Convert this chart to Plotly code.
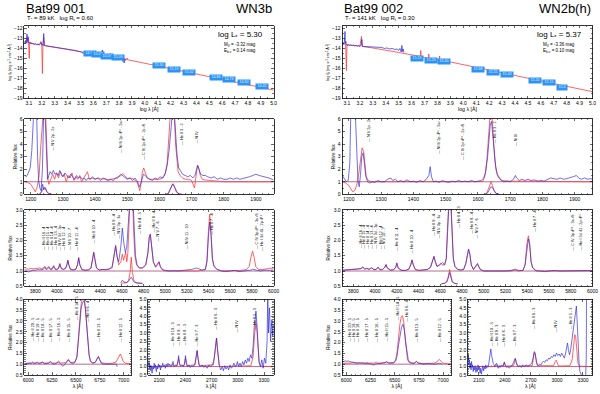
import plotly.graph_objects as go

# ---------------- DATA ----------------
# ---- Bat99 001 ----
S1_SED_OBS = [(3.065,-13.3),(3.07,-13.55),(3.075,-13.2),(3.08,-13.45),(3.085,-12.55),(3.088,-13.3),(3.091,-13.1),(3.094,-12.9),(3.097,-13.4),(3.1,-13.45),(3.105,-13.35),(3.11,-13.5),(3.115,-13.4),(3.12,-13.55),(3.13,-13.5),(3.14,-13.6),(3.15,-13.5),(3.16,-13.62),(3.17,-13.55),(3.18,-13.65),(3.19,-13.55),(3.195,-13.4),(3.2,-13.68),(3.205,-13.6),(3.21,-13.7),(3.215,-12.5),(3.22,-13.7),(3.23,-13.72),(3.25,-13.78),(3.27,-13.82),(3.29,-13.86),(3.31,-13.9),(3.33,-13.95),(3.35,-14.0),(3.37,-13.97),(3.39,-14.05),(3.41,-14.1),(3.43,-14.14),(3.45,-14.2),(3.47,-14.22),(3.49,-14.3),(3.51,-14.35),(3.52,-14.5),(3.53,-14.35),(3.54,-14.6),(3.55,-14.45),(3.56,-14.55),(3.57,-14.42),(3.58,-14.6),(3.59,-14.5),(3.6,-14.62),(3.61,-14.55),(3.62,-14.68),(3.63,-14.58),(3.64,-14.7),(3.65,-14.62),(3.66,-14.72),(3.671,-14.15),(3.68,-14.75),(3.69,-14.7),(3.7,-14.8),(3.71,-14.72),(3.72,-14.85),(3.733,-14.5),(3.74,-14.88),(3.75,-14.82),(3.76,-14.92),(3.77,-14.85),(3.78,-14.98),(3.79,-14.9),(3.8,-15.02),(3.81,-14.95),(3.817,-14.7),(3.823,-15.1),(3.83,-15.3),(3.835,-14.9),(3.84,-15.45),(3.845,-15.0),(3.85,-15.2)]
S1_SED_MOD = [(3.065,-13.35),(3.075,-13.3),(3.085,-13.5),(3.093,-12.8),(3.097,-13.4),(3.103,-15.0),(3.106,-13.45),(3.12,-13.5),(3.14,-13.55),(3.16,-13.6),(3.18,-13.62),(3.193,-13.3),(3.2,-13.66),(3.205,-16.5),(3.209,-13.68),(3.215,-12.9),(3.22,-13.72),(3.3,-13.87),(3.4,-14.1),(3.5,-14.33),(3.6,-14.56),(3.668,-14.72),(3.671,-14.3),(3.675,-14.74),(3.7,-14.78),(3.73,-14.85),(3.733,-14.6),(3.737,-14.86),(3.8,-14.98),(3.814,-15.02),(3.817,-14.75),(3.82,-15.05),(3.86,-15.1),(3.862,-14.95),(3.865,-15.12),(3.9,-15.21),(4.0,-15.47),(4.2,-16.01),(4.4,-16.55),(4.6,-17.09),(4.8,-17.62),(5.0,-18.16)]
S1_PHOT_LOGWL = [3.575, 3.635, 3.709, 3.788, 4.108, 4.224, 4.345, 4.549, 4.656, 4.77, 4.912]
S1_PHOT_LOGF = [-14.48, -14.6, -14.77, -14.91, -15.69, -16.08, -16.37, -16.88, -17.1, -17.42, -17.75]
S1_PHOT_MAG = ["14.91", "15.02", "15.07", "15.09", "15.30", "15.19", "15.02", "14.86", "14.73", "14.60", "14.45"]

S1_UV_OBS = [(1180,1.55),(1186,1.4),(1192,1.7),(1198,2.1),(1203,3.5),(1207,6.5),(1210,7),(1214,7),(1218,6.5),(1221,3.0),(1224,1.2),(1228,0.5),(1232,0.3),(1236,2.0),(1240,6.5),(1244,6.5),(1248,3.0),(1252,1.2),(1256,1.5),(1260,1.8),(1265,1.6),(1270,1.9),(1275,1.6),(1280,1.7),(1285,1.5),(1290,1.9),(1295,1.6),(1300,1.4),(1306,1.7),(1312,1.5),(1318,1.3),(1324,1.6),(1330,1.4),(1336,1.2),(1342,1.5),(1348,1.3),(1354,1.4),(1360,1.2),(1366,1.3),(1372,1.1),(1378,1.3),(1385,1.2),(1392,1.4),(1400,1.2),(1408,1.3),(1416,1.1),(1424,1.3),(1432,1.2),(1440,1.1),(1448,1.2),(1456,1.1),(1464,1.3),(1472,1.4),(1480,1.6),(1486,1.5),(1492,1.4),(1500,1.2),(1508,1.3),(1516,1.1),(1524,1.3),(1532,1.0),(1538,0.6),(1544,1.0),(1550,1.6),(1556,1.5),(1562,1.3),(1570,1.2),(1578,1.1),(1586,1.3),(1594,1.2),(1602,1.4),(1610,1.3),(1618,1.7),(1624,2.3),(1630,3.5),(1634,5.5),(1638,7),(1642,7),(1646,6.5),(1650,4.5),(1655,3.0),(1660,2.1),(1666,1.8),(1672,1.6),(1680,1.5),(1688,1.4),(1696,1.5),(1704,1.3),(1710,1.5),(1715,2.0),(1719,2.3),(1723,2.0),(1728,1.6),(1735,1.5),(1742,1.5),(1750,1.4),(1760,1.3),(1770,1.4),(1780,1.2),(1790,1.3),(1800,1.2),(1810,1.2),(1820,1.3),(1830,1.2),(1840,1.3),(1850,1.2),(1860,1.25),(1870,1.3),(1880,1.4),(1890,1.5),(1900,1.6),(1910,1.5),(1920,1.45),(1930,1.35),(1940,1.3),(1950,1.2),(1955,1.15)]
S1_UV_MOD = [(1180,1.0),(1190,0.95),(1200,0.8),(1208,0.5),(1214,0.2),(1220,0.6),(1226,1.5),(1230,3.5),(1234,6.5),(1240,7.0),(1246,6.5),(1250,3.0),(1253,1.2),(1256,0.8),(1262,1.2),(1268,1.6),(1274,1.2),(1280,1.7),(1286,1.3),(1292,1.8),(1298,1.4),(1304,1.6),(1310,1.0),(1316,1.5),(1322,1.3),(1328,1.7),(1334,1.1),(1340,1.4),(1346,1.2),(1352,1.5),(1358,1.0),(1364,1.3),(1370,1.6),(1376,1.8),(1382,1.2),(1390,1.3),(1400,1.2),(1410,1.3),(1420,1.2),(1430,1.25),(1440,1.15),(1450,1.2),(1460,1.2),(1470,1.3),(1480,1.5),(1486,1.65),(1492,1.5),(1500,1.25),(1510,1.3),(1520,1.2),(1530,1.0),(1535,0.5),(1539,0.3),(1543,0.9),(1547,1.8),(1551,2.1),(1556,1.7),(1562,1.3),(1570,1.2),(1580,1.2),(1590,1.15),(1600,1.2),(1610,1.3),(1618,1.6),(1624,2.5),(1630,4.5),(1634,6.5),(1640,7.5),(1646,6.5),(1650,4.0),(1654,2.5),(1658,1.8),(1664,1.5),(1672,1.3),(1680,1.2),(1690,1.2),(1700,1.1),(1705,0.7),(1709,0.5),(1713,1.3),(1718,2.3),(1722,2.1),(1727,1.5),(1733,1.2),(1740,1.15),(1760,1.1),(1780,1.05),(1800,1.0),(1955,1.0)]
S1_UV_INSET_MOD = [(1224,0.0),(1230,0.05),(1236,0.3),(1241,0.55),(1246,0.45),(1251,0.15),(1258,0.03),(1266,0.0),(None,None),(1618,0.0),(1626,0.05),(1632,0.35),(1638,0.75),(1642,0.85),(1647,0.55),(1652,0.2),(1660,0.04),(1670,0.0)]
S1_UV_INSET_OBS = [(1226,0.0),(1232,0.15),(1237,0.8),(1240,0.35),(1244,0.55),(1249,0.25),(1256,0.05),(1264,0.0),(None,None),(1620,0.0),(1628,0.06),(1634,0.4),(1640,0.8),(1644,0.75),(1649,0.4),(1655,0.15),(1662,0.03),(1670,0.0)]

S1_OPT_OBS = [(3700,0.98),(3720,1.0),(3740,0.97),(3760,1.0),(3780,1.03),(3800,1.02),(3820,1.05),(3840,1.04),(3860,1.06),(3875,1.05),(3888,1.12),(3900,1.05),(3912,1.06),(3925,1.12),(3940,1.04),(3955,1.05),(3970,1.15),(3985,1.05),(4000,1.04),(4015,1.08),(4027,1.22),(4040,1.08),(4060,1.05),(4080,1.08),(4092,1.2),(4101,1.35),(4110,1.2),(4125,1.05),(4150,1.03),(4175,1.06),(4190,1.2),(4201,1.42),(4212,1.2),(4230,1.05),(4260,1.02),(4290,1.03),(4315,1.1),(4330,1.4),(4340,1.6),(4350,1.4),(4365,1.1),(4390,1.03),(4420,1.05),(4450,1.04),(4480,1.06),(4510,1.15),(4530,1.5),(4542,1.8),(4555,1.45),(4570,1.3),(4590,1.8),(4604,2.4),(4618,1.9),(4632,1.6),(4645,1.8),(4660,2.6),(4672,3.5),(4686,4.0),(4700,3.5),(4712,2.2),(4725,1.5),(4740,1.2),(4760,1.1),(4790,1.1),(4820,1.2),(4840,1.6),(4852,2.1),(4862,2.2),(4875,1.8),(4890,1.3),(4910,1.15),(4930,1.25),(4942,1.3),(4955,1.15),(4975,1.05),(5000,1.02),(5040,1.0),(5080,1.01),(5120,1.0),(5160,1.02),(5200,1.03),(5240,1.05),(5270,1.08),(5290,1.1),(5310,1.07),(5340,1.03),(5370,1.05),(5385,1.3),(5398,2.1),(5410,2.6),(5422,2.2),(5435,1.4),(5450,1.15),(5480,1.05),(5520,1.0),(5560,0.98),(5600,1.0),(5640,1.02),(5680,0.98),(5720,1.0),(5760,1.01),(5790,1.03),(5806,1.06),(5820,1.04),(5850,1.02),(5880,1.0),(5920,1.03),(5960,1.02),(6000,1.04)]
S1_OPT_MOD = [(3700,1.05),(3720,1.07),(3740,1.06),(3760,1.08),(3780,1.07),(3800,1.08),(3820,1.07),(3840,1.1),(3860,1.08),(3875,1.1),(3888,1.15),(3900,1.08),(3912,1.1),(3925,1.15),(3940,1.07),(3955,1.08),(3970,1.18),(3985,1.07),(4000,1.06),(4015,1.1),(4027,1.25),(4040,1.08),(4060,1.06),(4080,1.1),(4092,1.2),(4101,1.35),(4110,1.2),(4125,1.06),(4150,1.04),(4175,1.06),(4190,1.2),(4201,1.45),(4212,1.2),(4230,1.05),(4260,1.03),(4290,1.04),(4315,1.1),(4330,1.4),(4340,1.62),(4350,1.4),(4365,1.1),(4390,1.04),(4420,1.04),(4450,1.05),(4480,1.06),(4510,1.1),(4530,1.5),(4542,1.85),(4555,1.5),(4570,1.2),(4590,1.3),(4604,1.55),(4615,1.35),(4625,1.5),(4635,1.6),(4645,1.3),(4655,1.6),(4665,2.5),(4675,3.6),(4686,4.2),(4697,3.6),(4708,2.3),(4720,1.5),(4735,1.2),(4760,1.1),(4790,1.1),(4820,1.2),(4840,1.6),(4852,2.1),(4862,2.2),(4875,1.8),(4890,1.3),(4910,1.12),(4930,1.2),(4942,1.3),(4955,1.12),(4975,1.03),(5000,1.0),(5100,1.0),(5200,1.0),(5300,1.0),(5370,1.05),(5385,1.35),(5398,2.3),(5410,2.85),(5422,2.3),(5435,1.4),(5450,1.15),(5480,1.05),(5520,1.0),(5600,1.0),(5700,1.02),(5750,1.05),(5775,1.15),(5790,1.45),(5806,1.65),(5820,1.45),(5835,1.15),(5860,1.05),(5900,1.05),(5950,1.08),(6000,1.1)]
S1_OPT_INSET_MOD = [(4590,0.6),(4620,0.6),(4645,0.62),(4662,0.7),(4675,0.95),(4686,1.45),(4697,0.95),(4710,0.7),(4730,0.62),(4760,0.6),(4790,0.59)]
S1_OPT_INSET_OBS = [(4590,0.62),(4605,0.7),(4620,0.64),(4640,0.62),(4660,0.66),(4675,0.75),(4686,0.8),(4698,0.72),(4712,0.64),(4735,0.61),(4760,0.6),(4790,0.6)]

S1_HA_OBS = [(5960,1.02),(5980,1.04),(6000,1.03),(6020,1.05),(6035,1.03),(6046,1.07),(6060,1.03),(6080,1.04),(6094,1.07),(6110,1.03),(6130,1.04),(6149,1.08),(6170,1.02),(6195,1.03),(6215,1.05),(6232,1.1),(6250,1.03),(6275,1.0),(6300,1.05),(6318,1.1),(6340,1.0),(6365,0.9),(6385,1.0),(6405,1.1),(6421,1.2),(6440,1.08),(6465,1.03),(6490,1.08),(6510,1.3),(6525,2.0),(6540,3.0),(6555,3.6),(6570,3.85),(6585,3.95),(6598,3.6),(6612,2.8),(6625,2.0),(6638,1.45),(6652,1.15),(6670,1.05),(6690,1.05),(6710,1.12),(6725,1.28),(6736,1.35),(6748,1.22),(6765,1.05),(6790,1.0),(6820,1.0),(6850,1.02),(6880,1.0),(6905,1.02),(6925,1.0),(6932,0.88)]
S1_HA_MOD = [(5960,1.03),(6000,1.04),(6030,1.05),(6046,1.1),(6060,1.05),(6080,1.05),(6094,1.1),(6110,1.05),(6135,1.05),(6149,1.11),(6165,1.05),(6210,1.05),(6232,1.13),(6255,1.05),(6295,1.05),(6318,1.14),(6340,1.05),(6395,1.07),(6421,1.22),(6445,1.07),(6490,1.1),(6510,1.35),(6525,2.1),(6540,3.1),(6555,3.8),(6570,4.1),(6585,4.15),(6598,3.7),(6612,2.8),(6625,1.95),(6638,1.4),(6652,1.15),(6670,1.07),(6700,1.08),(6720,1.25),(6736,1.35),(6750,1.2),(6770,1.06),(6820,1.03),(6880,1.04),(6920,1.1),(6940,1.25),(6955,1.42),(6965,1.47),(6978,1.35),(6995,1.12),(7020,1.04),(7080,1.02)]

S1_IR_OBS = [(1975,1.0),(1982,1.35),(1988,0.9),(1995,1.1),(2003,0.75),(2010,1.05),(2018,0.6),(2026,1.0),(2034,0.85),(2042,1.2),(2050,0.9),(2058,1.1),(2066,0.7),(2074,1.0),(2082,0.85),(2090,1.15),(2098,0.95),(2106,1.1),(2114,0.8),(2122,1.05),(2130,0.95),(2140,1.2),(2150,1.0),(2160,1.1),(2170,0.9),(2180,1.15),(2190,1.0),(2200,1.2),(2210,1.05),(2220,1.15),(2232,1.0),(2245,1.1),(2258,1.3),(2270,1.0),(2285,1.1),(2300,1.05),(2315,1.3),(2322,1.65),(2330,1.2),(2345,1.05),(2360,1.1),(2375,1.0),(2390,1.2),(2401,1.65),(2410,1.2),(2425,1.0),(2440,1.1),(2455,0.95),(2470,1.05),(2490,1.0),(2510,1.2),(2525,1.7),(2534,1.95),(2543,1.5),(2555,1.1),(2570,1.0),(2590,1.1),(2610,0.95),(2630,1.05),(2650,0.9),(2670,1.1),(2690,1.0),(2710,1.1),(2730,1.5),(2745,2.4),(2755,2.7),(2765,2.1),(2778,1.3),(2790,1.0),(2805,0.8),(2820,1.0),(2835,0.75),(2850,1.05),(2865,0.85),(2880,1.0),(2895,0.8),(2910,1.1),(2925,0.9),(2940,1.0),(2955,1.2),(2970,1.0),(2985,1.1),(2995,1.3),(3010,1.0),(3025,1.2),(3040,1.0),(3055,1.3),(3070,1.1),(3085,1.4),(3100,1.2),(3115,1.5),(3130,1.3),(3145,1.7),(3160,1.5),(3175,2.2),(3188,3.4),(3198,4.0),(3208,4.3),(3218,3.5),(3230,2.2),(3245,1.2),(3260,1.0),(3275,1.4),(3290,0.9),(3305,1.5),(3320,1.2),(3335,2.5),(3343,5.5),(3350,3.0),(3362,4.5),(3375,2.5),(3390,3.8),(3400,2.8),(3410,3.5)]
S1_IR_MOD = [(1975,1.0),(2200,1.0),(2240,1.02),(2252,1.15),(2264,1.02),(2305,1.05),(2322,1.5),(2338,1.05),(2385,1.05),(2401,1.5),(2417,1.05),(2510,1.1),(2524,1.6),(2534,1.95),(2545,1.5),(2560,1.05),(2720,1.1),(2735,1.8),(2748,2.6),(2758,2.7),(2770,1.9),(2785,1.1),(2800,1.0),(2975,1.02),(2993,1.12),(3010,1.02),(3150,1.05),(3175,1.6),(3192,2.9),(3205,3.6),(3215,3.5),(3228,2.4),(3242,1.3),(3260,1.02),(3410,1.0)]

# ---- Bat99 002 ----
S2_SED_OBS = [(3.065,-13.5),(3.07,-13.4),(3.075,-13.6),(3.08,-13.45),(3.085,-12.3),(3.088,-13.5),(3.092,-13.3),(3.096,-13.65),(3.1,-13.6),(3.105,-13.7),(3.11,-13.62),(3.12,-13.7),(3.13,-13.65),(3.14,-13.72),(3.15,-13.66),(3.16,-13.75),(3.17,-13.68),(3.18,-13.75),(3.19,-13.7),(3.2,-13.78),(3.21,-13.7),(3.215,-13.1),(3.22,-13.78),(3.23,-13.8),(3.25,-13.82),(3.27,-13.85),(3.29,-13.83),(3.31,-13.9),(3.33,-13.86),(3.35,-13.95),(3.37,-13.9),(3.39,-14.0),(3.41,-13.95),(3.43,-14.05),(3.45,-14.0),(3.47,-14.1),(3.49,-14.05),(3.5,-14.2),(3.51,-14.0),(3.52,-14.35),(3.525,-13.7),(3.53,-14.3),(3.535,-14.05),(3.54,-14.4)]
S2_SED_MOD = [(3.065,-13.45),(3.08,-13.55),(3.09,-13.6),(3.096,-16.2),(3.1,-13.62),(3.15,-13.7),(3.2,-13.78),(3.213,-12.8),(3.218,-13.8),(3.3,-13.95),(3.4,-14.15),(3.5,-14.4),(3.6,-14.63),(3.668,-14.8),(3.671,-14.2),(3.675,-14.82),(3.7,-14.9),(3.731,-14.98),(3.733,-14.55),(3.736,-15.0),(3.8,-15.1),(3.815,-15.15),(3.817,-14.75),(3.82,-15.17),(3.9,-15.35),(4.0,-15.6),(4.2,-16.15),(4.4,-16.7),(4.6,-17.25),(4.8,-17.78),(5.0,-18.32)]
S2_PHOT_LOGWL = [3.645, 3.749, 3.849, 4.112, 4.23, 4.342, 4.554, 4.661, 4.764]
S2_PHOT_LOGF = [-15.0, -15.16, -15.33, -16.08, -16.43, -16.65, -17.2, -17.42, -17.85]
S2_PHOT_MAG = ["15.19", "15.23", "15.40", "15.68", "15.55", "15.43", "15.20", "15.15", "15.0"]

S2_UV_OBS = [(1180,1.5),(1186,1.2),(1192,1.0),(1198,1.1),(1203,2.5),(1206,6.5),(1210,7),(1216,7),(1220,6.5),(1224,3.0),(1228,1.2),(1232,0.6),(1236,1.5),(1240,3.0),(1244,3.3),(1248,2.5),(1252,1.5),(1258,1.0),(1265,0.9),(1272,1.0),(1280,0.95),(1290,1.1),(1300,1.0),(1310,1.0),(1320,1.2),(1330,1.3),(1336,1.1),(1344,1.2),(1352,1.0),(1360,1.1),(1370,1.0),(1380,1.15),(1390,1.0),(1400,1.05),(1410,0.95),(1420,1.1),(1430,1.0),(1440,1.2),(1448,1.5),(1452,2.2),(1456,1.4),(1462,1.0),(1470,1.05),(1480,0.95),(1490,1.1),(1500,1.0),(1510,0.95),(1520,1.05),(1530,1.0),(1540,1.1),(1550,1.0),(1560,1.05),(1570,1.0),(1580,1.1),(1590,1.0),(1600,1.05),(1610,1.1),(1618,1.3),(1624,1.8),(1630,3.0),(1634,4.5),(1638,5.5),(1642,5.8),(1646,4.8),(1650,3.4),(1655,2.2),(1660,1.6),(1666,1.3),(1672,1.1),(1680,1.0),(1690,1.05),(1700,1.0),(1710,1.2),(1716,1.5),(1720,1.3),(1728,1.1),(1736,1.2),(1745,1.1),(1755,1.2),(1765,1.1),(1775,1.15),(1785,1.05),(1795,1.1),(1805,1.05),(1815,1.2),(1825,1.3),(1835,1.25),(1845,1.2),(1855,1.3),(1865,1.2),(1875,1.25),(1885,1.3),(1895,1.4),(1905,1.5),(1912,1.3),(1920,1.2),(1930,1.3),(1940,1.2),(1950,1.25),(1955,1.2)]
S2_UV_MOD = [(1180,1.0),(1190,0.9),(1200,0.7),(1206,0.4),(1212,0.2),(1218,0.3),(1224,0.7),(1230,1.5),(1236,2.8),(1241,3.7),(1246,3.4),(1250,2.2),(1254,1.4),(1260,1.1),(1270,1.0),(1615,1.02),(1622,1.5),(1628,2.8),(1633,5.0),(1638,6.5),(1643,6.5),(1648,4.5),(1652,2.8),(1657,1.8),(1662,1.4),(1668,1.2),(1676,1.1),(1690,1.05),(1720,1.05),(1760,1.0),(1955,1.0)]
S2_UV_INSET_MOD = [(1618,0.0),(1626,0.05),(1632,0.4),(1638,0.9),(1641,1.0),(1645,0.7),(1650,0.3),(1656,0.08),(1664,0.0)]
S2_UV_INSET_OBS = [(1620,0.0),(1628,0.05),(1634,0.3),(1640,0.6),(1644,0.55),(1649,0.3),(1655,0.1),(1662,0.02),(1668,0.0)]

S2_OPT_OBS = [(3700,1.02),(3750,1.03),(3800,1.05),(3840,1.06),(3870,1.08),(3888,1.12),(3905,1.06),(3925,1.08),(3945,1.05),(3970,1.1),(3990,1.04),(4010,1.05),(4027,1.12),(4045,1.04),(4070,1.05),(4090,1.12),(4101,1.2),(4112,1.1),(4140,1.03),(4170,1.04),(4190,1.12),(4201,1.25),(4212,1.1),(4240,1.02),(4280,1.02),(4310,1.06),(4328,1.2),(4340,1.35),(4352,1.2),(4370,1.05),(4400,1.02),(4440,1.03),(4480,1.05),(4510,1.12),(4528,1.35),(4542,1.48),(4555,1.3),(4570,1.15),(4590,1.2),(4605,1.25),(4620,1.2),(4640,1.2),(4655,1.4),(4665,2.2),(4675,3.2),(4686,3.6),(4697,3.2),(4708,2.0),(4720,1.4),(4735,1.15),(4760,1.05),(4790,1.03),(4815,1.05),(4835,1.25),(4850,1.6),(4860,1.72),(4872,1.55),(4885,1.2),(4905,1.05),(4925,1.15),(4942,1.25),(4955,1.15),(4970,1.05),(5000,1.0),(5050,1.0),(5100,1.0),(5150,0.98),(5200,1.0),(5250,1.02),(5290,1.06),(5320,1.02),(5360,1.02),(5380,1.2),(5395,1.75),(5410,2.05),(5422,1.85),(5435,1.3),(5450,1.1),(5480,1.0),(5520,1.0),(5560,0.98),(5600,1.0),(5650,1.02),(5700,1.0),(5750,1.0),(5800,1.02),(5850,1.0),(5900,1.01),(5950,1.02),(6000,1.02)]
S2_OPT_MOD = [(3700,1.03),(3750,1.04),(3800,1.05),(3840,1.06),(3870,1.08),(3888,1.13),(3905,1.07),(3925,1.09),(3945,1.06),(3970,1.11),(3990,1.05),(4010,1.05),(4027,1.13),(4045,1.05),(4070,1.05),(4090,1.12),(4101,1.22),(4112,1.1),(4140,1.03),(4170,1.04),(4190,1.12),(4201,1.27),(4212,1.1),(4240,1.03),(4280,1.02),(4310,1.06),(4328,1.2),(4340,1.37),(4352,1.2),(4370,1.05),(4400,1.02),(4440,1.03),(4480,1.05),(4510,1.12),(4528,1.35),(4542,1.47),(4555,1.3),(4570,1.15),(4590,1.18),(4605,1.22),(4622,1.28),(4640,1.2),(4655,1.4),(4665,2.3),(4675,3.3),(4686,3.8),(4697,3.3),(4708,2.1),(4720,1.4),(4735,1.15),(4760,1.05),(4790,1.03),(4815,1.05),(4835,1.25),(4850,1.6),(4860,1.7),(4872,1.55),(4885,1.2),(4905,1.05),(4925,1.15),(4942,1.22),(4955,1.12),(4970,1.04),(5000,1.0),(5250,1.0),(5290,1.03),(5320,1.0),(5360,1.02),(5380,1.2),(5395,1.85),(5410,2.15),(5422,1.9),(5435,1.3),(5450,1.1),(5480,1.02),(5520,1.0),(6000,1.0)]
S2_OPT_INSET_MOD = [(4610,0.58),(4640,0.6),(4660,0.66),(4672,0.8),(4686,1.05),(4698,0.82),(4710,0.66),(4730,0.6),(4760,0.58)]
S2_OPT_INSET_OBS = [(4610,0.58),(4640,0.6),(4660,0.64),(4672,0.75),(4686,0.95),(4698,0.78),(4710,0.64),(4730,0.6),(4760,0.58)]

S2_HA_OBS = [(5960,1.1),(5975,1.12),(5990,1.15),(6005,1.13),(6020,1.15),(6035,1.12),(6050,1.1),(6070,1.08),(6090,1.07),(6110,1.05),(6130,1.06),(6150,1.04),(6175,1.05),(6200,1.03),(6220,1.04),(6240,1.02),(6260,1.0),(6280,0.96),(6300,1.0),(6320,1.03),(6345,1.02),(6370,1.04),(6395,1.06),(6418,1.1),(6440,1.04),(6465,1.03),(6490,1.05),(6510,1.15),(6525,1.4),(6540,1.9),(6555,2.4),(6570,2.7),(6585,2.85),(6598,2.6),(6612,2.0),(6625,1.5),(6640,1.2),(6660,1.06),(6690,1.03),(6710,1.06),(6724,1.12),(6740,1.05),(6770,1.02),(6800,1.0),(6830,1.02),(6860,1.0),(6890,1.01),(6920,1.0),(6945,1.02),(6960,1.04),(6990,1.0)]
S2_HA_MOD = [(5960,1.04),(6000,1.05),(6025,1.05),(6038,1.08),(6050,1.05),(6060,1.05),(6072,1.08),(6085,1.05),(6100,1.05),(6113,1.08),(6128,1.05),(6200,1.05),(6215,1.09),(6230,1.05),(6290,1.05),(6309,1.1),(6325,1.05),(6400,1.06),(6418,1.12),(6435,1.06),(6490,1.08),(6510,1.2),(6525,1.6),(6540,2.3),(6555,2.9),(6568,3.2),(6580,3.25),(6592,3.0),(6605,2.3),(6618,1.6),(6632,1.2),(6650,1.07),(6700,1.05),(6712,1.1),(6724,1.14),(6738,1.06),(6780,1.03),(6900,1.04),(6935,1.1),(6950,1.18),(6961,1.22),(6975,1.15),(6995,1.05),(7030,1.02),(7080,1.02)]

S2_IR_OBS = [(1975,1.3),(1980,1.7),(1986,1.1),(1992,1.4),(1998,0.9),(2004,1.2),(2010,0.8),(2016,1.3),(2022,0.95),(2028,1.1),(2035,0.7),(2042,1.0),(2050,0.8),(2058,1.05),(2066,0.65),(2074,0.95),(2082,0.7),(2090,1.1),(2098,0.8),(2106,1.0),(2114,0.6),(2122,0.9),(2130,0.55),(2138,0.85),(2146,1.05),(2155,0.75),(2164,1.0),(2172,0.85),(2180,1.1),(2190,0.9),(2200,1.05),(2210,1.0),(2220,1.3),(2230,1.8),(2238,2.05),(2246,1.7),(2255,1.4),(2265,1.2),(2275,1.1),(2285,1.0),(2295,1.15),(2305,1.2),(2315,1.0),(2325,0.9),(2335,1.05),(2345,0.95),(2360,1.1),(2375,1.0),(2388,1.15),(2395,1.25),(2405,1.05),(2420,0.95),(2435,1.0),(2450,0.9),(2465,1.0),(2480,1.05),(2495,1.2),(2510,1.45),(2520,1.5),(2530,1.25),(2545,1.05),(2560,1.0),(2575,1.05),(2590,0.95),(2605,1.1),(2620,1.0),(2635,1.05),(2650,1.1),(2665,1.0),(2680,1.05),(2695,1.1),(2710,1.2),(2725,1.5),(2738,1.85),(2748,1.75),(2760,1.3),(2772,1.1),(2785,1.05),(2800,1.15),(2815,1.1),(2830,1.25),(2845,1.3),(2860,1.25),(2875,1.4),(2890,1.35),(2905,1.5),(2920,1.45),(2935,1.6),(2950,1.55),(2965,1.7),(2980,1.6),(2995,1.8),(3010,1.65),(3025,1.75),(3040,1.6),(3055,1.8),(3070,1.6),(3085,1.5),(3100,1.8),(3112,2.2),(3122,2.4),(3132,2.0),(3145,1.7),(3158,2.0),(3170,2.5),(3185,3.2),(3200,3.8),(3212,4.4),(3224,4.6),(3234,3.6),(3244,2.2),(3255,1.2),(3265,0.7),(3275,0.5),(3290,0.4),(3310,0.3),(3330,0.3),(3338,1.5),(3341,5.5)]
S2_IR_MOD = [(1975,1.0),(2230,1.0),(2244,1.06),(2256,1.0),(2295,1.02),(2308,1.12),(2322,1.02),(2380,1.03),(2393,1.28),(2406,1.03),(2500,1.05),(2512,1.35),(2520,1.45),(2530,1.3),(2545,1.03),(2715,1.05),(2730,1.5),(2740,1.9),(2750,1.8),(2762,1.3),(2778,1.05),(2960,1.05),(2980,1.3),(2992,1.38),(3005,1.2),(3020,1.03),(3150,1.05),(3175,1.4),(3192,2.2),(3205,2.9),(3215,2.85),(3228,1.9),(3242,1.2),(3260,1.02),(3410,1.0)]

# ---- line identifications ----
UV_ID_TEXT = ["N V 2p - 2s", "N IV 2p ³P° - 2s²", "C IV 2p ²P° - 2s ²S", "He II 3 - 2", "N IV"]
S1_UV_ID_WL = [1268, 1481, 1551, 1668, 1716]
S1_UV_ID_Y = [3.3, 3.1, 2.6, 3.8, 3.9]
S2_UV_ID_WL = [1262, 1481, 1553, 1655, 1720]
S2_UV_ID_Y = [4.0, 3.05, 2.6, 3.9, 3.7]

S1_OPT_ID_TEXT = ["He II 16 - 4", "He II 15 - 4", "He II 14 - 4", "He II 13 - 4", "N IV 3d - 3p", "He II 12 - 4", "N V 10 - 7", "He II 11 - 4", "He II 10 - 4", "He II 9 - 4", "N V 3p - 3s", "He II 4 - 3", "He II 8 - 4", "N V 7 - 6", "N IV 11 - 10", "He II 7 - 4", "C IV 3p ²P° - 3s ²S", "He I 3d ³D - 2p ³P°"]
S1_OPT_ID_WL = [3882, 3919, 3955, 3988, 4028, 4070, 4120, 4190, 4338, 4530, 4575, 4768, 4896, 4940, 5208, 5436, 5846, 5891]
S1_OPT_ID_Y = [1.62, 1.62, 1.62, 1.62, 1.62, 1.62, 1.62, 1.6, 1.82, 2.1, 2.0, 2.15, 2.2, 1.9, 1.66, 2.1, 1.66, 1.6]
S2_OPT_ID_TEXT = ["He II 16 - 4", "He II 15 - 4", "He II 14 - 4", "He II 13 - 4", "N IV 3d - 3p", "He II 12 - 4", "N V 10 - 7", "He II 11 - 4", "He II 10 - 4", "He II 9 - 4", "N V 3p - 3s", "He II 4 - 3", "He II 8 - 4", "N V 7 - 6", "He II 7 - 4", "C IV 3p ²P° - 3s ²S", "He I 3d ³D - 2p ³P°"]
S2_OPT_ID_WL = [3867, 3898, 3934, 3973, 4012, 4049, 4085, 4201, 4338, 4545, 4590, 4777, 4884, 4945, 5476, 5825, 5895]
S2_OPT_ID_Y = [1.66, 1.66, 1.66, 1.66, 1.66, 1.66, 1.66, 1.6, 1.5, 2.1, 2.0, 2.33, 2.16, 2.0, 2.2, 1.6, 1.6]

HA_ID_TEXT = ["He II 20 - 5", "He II 19 - 5", "He II 18 - 5", "He II 17 - 5", "He II 16 - 5", "He II 15 - 5", "He II 14 - 5", "He II 6 - 4", "He II 13 - 5", "He II 12 - 5"]
S1_HA_ID_WL = [6046, 6094, 6149, 6232, 6318, 6421, 6511, 6628, 6742, 6973]
S2_HA_ID_WL = [6038, 6072, 6113, 6215, 6309, 6418, 6537, 6632, 6724, 6961]
HA_ID_Y = [1.95, 1.95, 1.95, 1.95, 1.95, 1.95, 2.95, 2.85, 1.95, 1.95]

IR_ID_TEXT = ["He II 10 - 3", "He II 9 - 3", "He II 8 - 3", "He II 7 - 3", "He II 6 - 3", "N IV", "He II 5 - 3"]
S1_IR_ID_WL = [2258, 2322, 2401, 2534, 2755, 2993, 3201]
S2_IR_ID_WL = [2252, 2309, 2395, 2517, 2744, 2991, 3161]
IR_ID_Y = [2.1, 2.1, 2.1, 2.1, 3.1, 2.9, 3.1]

# ---- header texts ----
STAR_NAMES = ["Bat99 001", "Bat99 002"]
SPTYPES = ["WN3b", "WN2b(h)"]
TSTAR = ["89", "141"]
LOGRT = ["0.60", "0.30"]
LOGL = ["5.30", "5.37"]
MV = ["-3.32", "-3.36"]
EBV = ["0.14", "0.10"]

# ---------------- STYLE / LAYOUT ----------------
FONT = "Liberation Sans, Arial, Helvetica, sans-serif"
BLUE = "#2b2bdc"
RED = "#ff3d3d"
CONT = "#a3466e"
PHOT = "#2a93f5"
NB = "\u00a0"

W, H = 600, 394
COLS = [dict(x0=22.7, x1=275.3, xa1=131.0, xb0=148.3),
        dict(x0=345.0, x1=598.5, xa1=455.0, xb0=472.3)]
ROWS = dict(sed=(23.3, 97.0), uv=(117.7, 194.3), opt=(210.0, 287.7), bot=(301.0, 377.7))


def xd(a, b):
    return [a / W, b / W]


def yd(top, bot):
    return [1 - bot / H, 1 - top / H]


def axkey(kind, i):
    return kind + "axis" + ("" if i == 1 else str(i))


def ref(kind, i):
    return kind + ("" if i == 1 else str(i))


fig = go.Figure()
layout = dict(width=W, height=H, margin=dict(l=0, r=0, t=0, b=0),
              paper_bgcolor="white", plot_bgcolor="white", showlegend=False,
              font=dict(family=FONT, size=5, color="black"))
annotations = []
shapes = []


def base_axis():
    return dict(showline=True, linecolor="black", linewidth=0.8, mirror="allticks",
                ticks="inside", ticklen=2.5, tickwidth=0.6, tickcolor="black",
                showgrid=False, zeroline=False,
                tickfont=dict(size=5, family=FONT, color="black"))


def add_panel(i, xdom, ydom, xr, yr, xt0, xdt, xmin, yt0, ydt, ymin, xfmt=None, yfmt=None,
              xtitle=None, ytitle=None, ytitle_size=4.6):
    xa = base_axis()
    xa.update(domain=xdom, range=xr, tick0=xt0, dtick=xdt, anchor=ref("y", i),
              minor=dict(ticks="inside", ticklen=1.3, tickwidth=0.5, tickcolor="black", dtick=xmin))
    if xfmt:
        xa["tickformat"] = xfmt
    if xtitle:
        xa["title"] = dict(text=xtitle, font=dict(size=5.2, family=FONT), standoff=1)
    ya = base_axis()
    ya.update(domain=ydom, range=yr, tick0=yt0, dtick=ydt, anchor=ref("x", i),
              minor=dict(ticks="inside", ticklen=1.3, tickwidth=0.5, tickcolor="black", dtick=ymin))
    if yfmt:
        ya["tickformat"] = yfmt
    if ytitle:
        ya["title"] = dict(text=ytitle, font=dict(size=ytitle_size, family=FONT), standoff=2)
    layout[axkey("x", i)] = xa
    layout[axkey("y", i)] = ya


def add_line(i, pairs, color, width=0.8, opacity=1.0):
    xs = [p[0] for p in pairs]
    ys = [p[1] for p in pairs]
    fig.add_trace(go.Scatter(x=xs, y=ys, mode="lines", line=dict(color=color, width=width),
                             opacity=opacity, xaxis=ref("x", i), yaxis=ref("y", i),
                             hoverinfo="skip", connectgaps=False))


def add_cont(i):
    shapes.append(dict(type="line", xref=ref("x", i) + " domain", x0=0, x1=1,
                       yref=ref("y", i), y0=1, y1=1, line=dict(color=CONT, width=0.8), layer="below"))


def add_ids(i, wls, ys, texts, size=3.8):
    for w, y, t in zip(wls, ys, texts):
        annotations.append(dict(x=w, y=y, xref=ref("x", i), yref=ref("y", i), text="— " + t,
                                textangle=-90, showarrow=False, xanchor="center", yanchor="bottom",
                                font=dict(size=size, family=FONT, color="black")))


def paper_text(px, py, text, size, xanchor="left", color="black"):
    annotations.append(dict(x=px / W, y=1 - py / H, xref="paper", yref="paper", text=text,
                            showarrow=False, xanchor=xanchor, yanchor="middle",
                            font=dict(size=size, family=FONT, color=color)))


SED_YTITLE = "log f<sub>λ</sub> [erg s<sup>-1</sup> cm<sup>-2</sup> Å<sup>-1</sup>]"

DATA = [
    dict(sed_obs=S1_SED_OBS, sed_mod=S1_SED_MOD, phx=S1_PHOT_LOGWL, phy=S1_PHOT_LOGF, phm=S1_PHOT_MAG,
         uv_obs=S1_UV_OBS, uv_mod=S1_UV_MOD, uv_io=S1_UV_INSET_OBS, uv_im=S1_UV_INSET_MOD,
         opt_obs=S1_OPT_OBS, opt_mod=S1_OPT_MOD, opt_io=S1_OPT_INSET_OBS, opt_im=S1_OPT_INSET_MOD,
         ha_obs=S1_HA_OBS, ha_mod=S1_HA_MOD, ir_obs=S1_IR_OBS, ir_mod=S1_IR_MOD,
         uv_id=(S1_UV_ID_WL, S1_UV_ID_Y, UV_ID_TEXT), opt_id=(S1_OPT_ID_WL, S1_OPT_ID_Y, S1_OPT_ID_TEXT),
         ha_id=(S1_HA_ID_WL, HA_ID_Y, HA_ID_TEXT), ir_id=(S1_IR_ID_WL, IR_ID_Y, IR_ID_TEXT)),
    dict(sed_obs=S2_SED_OBS, sed_mod=S2_SED_MOD, phx=S2_PHOT_LOGWL, phy=S2_PHOT_LOGF, phm=S2_PHOT_MAG,
         uv_obs=S2_UV_OBS, uv_mod=S2_UV_MOD, uv_io=S2_UV_INSET_OBS, uv_im=S2_UV_INSET_MOD,
         opt_obs=S2_OPT_OBS, opt_mod=S2_OPT_MOD, opt_io=S2_OPT_INSET_OBS, opt_im=S2_OPT_INSET_MOD,
         ha_obs=S2_HA_OBS, ha_mod=S2_HA_MOD, ir_obs=S2_IR_OBS, ir_mod=S2_IR_MOD,
         uv_id=(S2_UV_ID_WL, S2_UV_ID_Y, UV_ID_TEXT), opt_id=(S2_OPT_ID_WL, S2_OPT_ID_Y, S2_OPT_ID_TEXT),
         ha_id=(S2_HA_ID_WL, HA_ID_Y, HA_ID_TEXT), ir_id=(S2_IR_ID_WL, IR_ID_Y, IR_ID_TEXT)),
]

for c, col in enumerate(COLS):
    d = DATA[c]
    i_sed, i_uv, i_opt, i_ha, i_ir = [5 * c + k for k in range(1, 6)]
    add_panel(i_sed, xd(col["x0"], col["x1"]), yd(*ROWS["sed"]), [3.065, 5.0], [-19, -11.75],
              3.1, 0.1, 0.05, -19, 1, 0.5, xfmt=".1f", xtitle="log λ [Å]", ytitle=SED_YTITLE, ytitle_size=3.8)
    add_panel(i_uv, xd(col["x0"], col["x1"]), yd(*ROWS["uv"]), [1180, 1955], [0, 6],
              1200, 100, 20, 0, 1, 0.5, ytitle="Relative flux")
    add_panel(i_opt, xd(col["x0"], col["x1"]), yd(*ROWS["opt"]), [3700, 6000], [0.5, 3.0],
              3800, 200, 50, 0.5, 0.5, 0.1, yfmt=".1f", ytitle="Relative flux")
    add_panel(i_ha, xd(col["x0"], col["xa1"]), yd(*ROWS["bot"]), [5960, 7080], [0.5, 4.0],
              6000, 250, 50, 0.5, 0.5, 0.1, yfmt=".1f", xtitle="λ [Å]", ytitle="Relative flux")
    add_panel(i_ir, xd(col["xb0"], col["x1"]), yd(*ROWS["bot"]), [1975, 3410], [0.5, 5.0],
              2100, 300, 100, 0.5, 0.5, 0.1, yfmt=".1f", xtitle="λ [Å]")

    # SED
    add_line(i_sed, d["sed_mod"], RED, 0.8)
    add_line(i_sed, d["sed_obs"], BLUE, 0.8, 0.9)
    for lw, lf, m in zip(d["phx"], d["phy"], d["phm"]):
        annotations.append(dict(x=lw, y=lf, xref=ref("x", i_sed), yref=ref("y", i_sed),
                                text=NB + m + NB, showarrow=False, bgcolor=PHOT, borderpad=0.4,
                                font=dict(size=3.6, family=FONT, color="#e6f2ff")))
    # spectra
    for idx, key in ((i_uv, "uv"), (i_opt, "opt"), (i_ha, "ha"), (i_ir, "ir")):
        add_cont(idx)
        add_line(idx, d[key + "_mod"], RED, 0.8)
        add_line(idx, d[key + "_obs"], BLUE, 0.8, 0.85)
    for idx, key in ((i_uv, "uv"), (i_opt, "opt")):
        add_line(idx, d[key + "_im"], RED, 0.8)
        add_line(idx, d[key + "_io"], BLUE, 0.8, 0.85)
    add_ids(i_uv, *d["uv_id"])
    add_ids(i_opt, *d["opt_id"])
    add_ids(i_ha, *d["ha_id"])
    add_ids(i_ir, *d["ir_id"])

    # header texts
    paper_text(col["x0"], 6.0, STAR_NAMES[c], 13)
    paper_text(col["x1"], 6.0, SPTYPES[c], 13, xanchor="right")
    paper_text(col["x0"] + 1, 15.5,
               "T<sub>*</sub>" + NB + "=" + NB + TSTAR[c] + NB + "kK" + NB * 3 + "log" + NB + "R<sub>t</sub>" + NB + "=" + NB + LOGRT[c], 6)
    paper_text(col["x1"] - 8.5, 32.7, "log" + NB + "L<sub>*</sub>" + NB + "=" + NB + LOGL[c], 8, xanchor="right")
    paper_text(col["x1"] - 52, 42.5, "M<sub>V</sub>" + NB + "=" + NB + MV[c] + NB + "mag", 4.5)
    paper_text(col["x1"] - 52, 48.8, "E<sub>b-v</sub>" + NB + "=" + NB + EBV[c] + NB + "mag", 4.5)

layout["annotations"] = annotations
layout["shapes"] = shapes
fig.update_layout(**layout)
fig.write_html("out.html", config={"displayModeBar": False, "staticPlot": True},
               post_script="document.body.style.margin='0px';document.body.style.overflow='hidden';")
